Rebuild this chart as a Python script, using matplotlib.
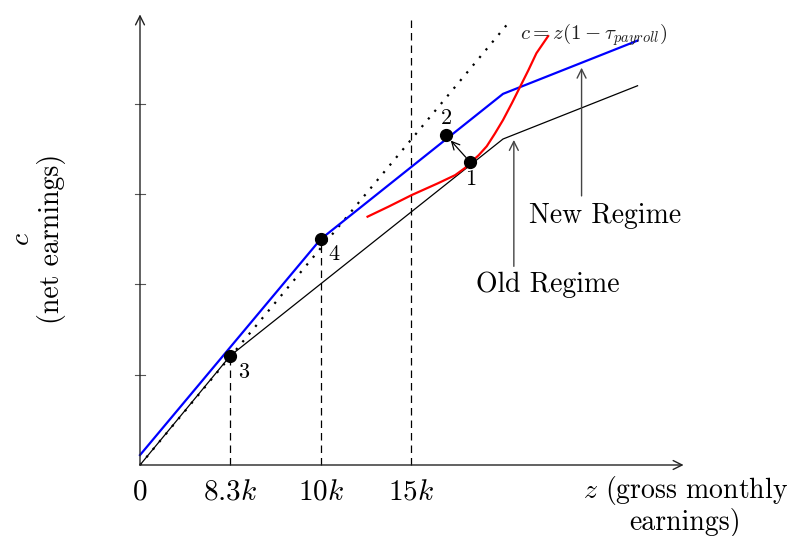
import numpy as np
import matplotlib
matplotlib.use("Agg")
import matplotlib.pyplot as plt

plt.rcParams['font.family'] = 'serif'
plt.rcParams['font.serif'] = ['cmr10']
plt.rcParams['mathtext.fontset'] = 'cm'
plt.rcParams['axes.unicode_minus'] = False

# --------------------------------
# Schedule data (schematic units)
# --------------------------------
tick_pos = [0, 1, 2, 3]
tick_labels = ["0", "8.3$k$", "10$k$", "15$k$"]
ytick_pos = [1, 2, 3, 4]

# no-tax line c = z(1 - tau_payroll)
notax_z = [0.0, 4.1]
notax_c = [0.0, 4.92]

# old regime budget constraint
old_z = [0.0, 1.0, 4.02, 5.51]
old_c = [0.0, 1.21, 3.61, 4.20]

# new regime budget constraint
new_z = [0.0, 2.0, 4.02, 5.51]
new_c = [0.11, 2.5, 4.11, 4.70]

# red indifference curve
red_z = [2.52, 2.75, 3.01, 3.30, 3.49, 3.60, 3.66, 3.75, 3.84, 3.93, 4.02, 4.12, 4.21, 4.30, 4.39, 4.52]
red_c = [2.75, 2.86, 2.99, 3.12, 3.21, 3.29, 3.35, 3.43, 3.53, 3.67, 3.82, 4.01, 4.19, 4.37, 4.56, 4.75]

# labelled points
pt_z = [3.66, 3.39, 1.0, 2.0]
pt_c = [3.35, 3.65, 1.21, 2.5]
pt_names = ["1", "2", "3", "4"]
pt_offsets = [(0.0, -0.19), (0.0, 0.19), (0.15, -0.18), (0.15, -0.17)]

# dashed guides from the axis up
guide_z = [1, 2, 3]
guide_top = [1.21, 2.5, 4.95]

# -------------------------------
# Figure
# -------------------------------
px = 90.3
fig = plt.figure(figsize=(7.87, 5.36), dpi=100)
ax = fig.add_axes([0, 0, 1, 1])
ax.set_xlim(-140 / px, (787 - 140) / px)
ax.set_ylim(-(536 - 465) / px, 465 / px)
ax.axis('off')

# axes with arrows
ax.annotate("", xy=(6.02, 0), xytext=(0, 0),
            arrowprops=dict(arrowstyle='->', color='#222', lw=1.0,
                            mutation_scale=16, shrinkA=0, shrinkB=0))
ax.annotate("", xy=(0, 4.99), xytext=(0, 0),
            arrowprops=dict(arrowstyle='->', color='#222', lw=1.0,
                            mutation_scale=16, shrinkA=0, shrinkB=0))
for yt in ytick_pos:
    ax.plot([-0.05, 0.05], [yt, yt], color='#555', lw=0.8)

for x, lab in zip(tick_pos, tick_labels):
    ax.text(x, -0.30, lab, ha='center', va='center', fontsize=21)

for x, top in zip(guide_z, guide_top):
    ax.plot([x, x], [0, top], color='black', lw=0.9, ls=(0, (6, 4)))

# lines
ax.plot(notax_z, notax_c, color='black', lw=1.6, ls=(0, (1, 3.5)))
ax.plot(old_z, old_c, color='black', lw=0.9)
ax.plot(new_z, new_c, color='blue', lw=1.6)
ax.plot(red_z, red_c, color='red', lw=1.6)

# move from 1 to 2
ax.annotate("", xy=(pt_z[1], pt_c[1]), xytext=(pt_z[0], pt_c[0]),
            arrowprops=dict(arrowstyle='->', color='black', lw=0.9,
                            mutation_scale=14, shrinkA=5, shrinkB=5))

ax.plot(pt_z, pt_c, 'o', color='black', markersize=8.5, zorder=5)
for z, c, name, (dx, dy) in zip(pt_z, pt_c, pt_names, pt_offsets):
    ax.text(z + dx, c + dy, name, ha='center', va='center', fontsize=16)

# annotations
ax.text(5.02, 4.77, r"$c = z(1 - \tau_{payroll})$", ha='center', va='center',
        fontsize=15, color='#222')

ax.annotate("", xy=(4.89, 4.40), xytext=(4.89, 2.98),
            arrowprops=dict(arrowstyle='->', color='#444', lw=1.0,
                            mutation_scale=16, shrinkA=0, shrinkB=0))
ax.text(5.15, 2.76, "New Regime", ha='center', va='center', fontsize=20)

ax.annotate("", xy=(4.14, 3.60), xytext=(4.14, 2.20),
            arrowprops=dict(arrowstyle='->', color='#444', lw=1.0,
                            mutation_scale=16, shrinkA=0, shrinkB=0))
ax.text(4.52, 2.00, "Old Regime", ha='center', va='center', fontsize=20)

# axis titles
ax.text(-1.14, 2.50, "$c$\n(net earnings)", ha='center', va='center',
        rotation=90, fontsize=20, linespacing=1.1)
ax.text(6.04, -0.45, "$z$ (gross monthly\nearnings)", ha='center', va='center',
        fontsize=20, linespacing=1.05)

plt.savefig("out.png", dpi=100)
